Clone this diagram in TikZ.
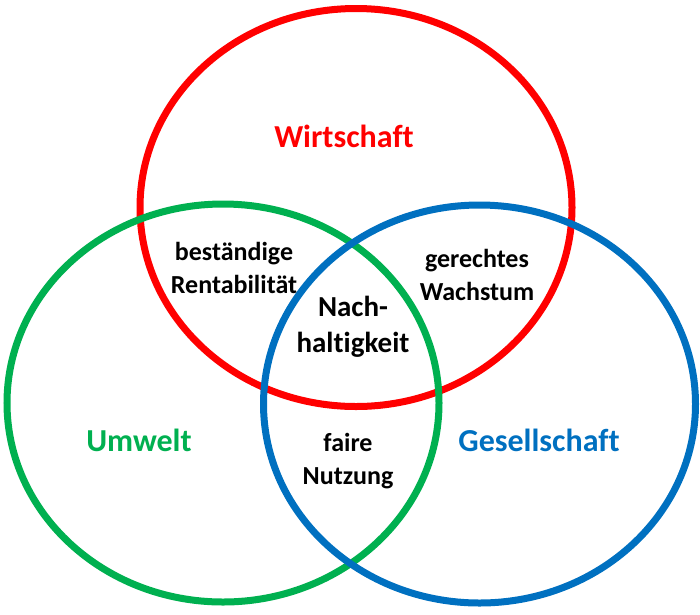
\documentclass[tikz,border=0pt]{standalone}
\usepackage{fontspec}
\setmainfont{Carlito}[Ligatures=NoCommon]
\usetikzlibrary{shapes.geometric}
\definecolor{wred}{RGB}{255,0,0}
\definecolor{ugreen}{RGB}{0,176,80}
\definecolor{gblue}{RGB}{0,112,192}

\begin{document}
\begin{tikzpicture}[x=1pt, y=-1pt,
    ring/.style={ellipse, draw=#1, line width=7pt, minimum width=432pt, minimum height=398pt, inner sep=0pt},
    head/.style={text=#1, font=\fontsize{32}{36}\selectfont\bfseries},
    part/.style={align=center, font=\fontsize{26}{33}\selectfont\bfseries},
    core/.style={align=center, font=\fontsize{29}{36}\selectfont\bfseries}]
        \useasboundingbox (0,0) rectangle (700,614);
        % Define circles
        \node[ring=wred] (Wirt) at (356,207.5) {};
        \node[ring=ugreen] (Umw) at (223,403) {};
        \node[ring=gblue] (Ges) at (479.5,404) {};

        % Names of the circles
        \node[head=wred] (WirtLabel) at (344,136) {Wirtschaft};
        \node[head=ugreen] (UmwLabel) at (139,440) {Umwelt};
        \node[head=gblue] (GesLabel) at (539,440) {Gesellschaft};

        % Overlaps
        \node[part] (Rent) at (234,267.5) {beständige\\Rentabilität};
        \node[part] (Wachs) at (477,275) {gerechtes\\Wachstum};
        \node[part] (Nutz) at (348,461.5) {faire\\Nutzung};
        \node[core] (Nach) at (353,327) {Nach-\\haltigkeit};
    \end{tikzpicture}
\end{document}
